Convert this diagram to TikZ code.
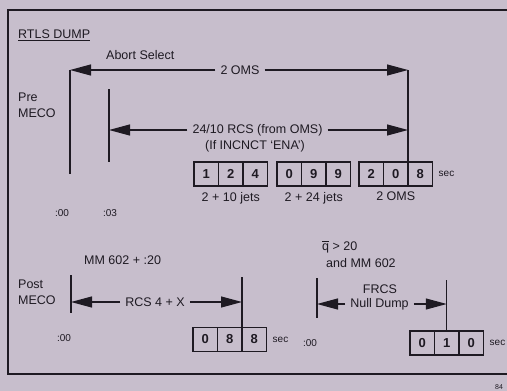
\documentclass[tikz,border=0pt]{standalone}
\usepackage{fontspec}
\setmainfont{Liberation Sans}
\usetikzlibrary{positioning,arrows.meta}
\definecolor{paper}{RGB}{199,190,204}
\definecolor{ink}{RGB}{30,26,34}

\begin{document}
\begin{tikzpicture}[
                x=1pt, y=-1pt,
                node distance=0pt,
                lbl/.style={inner sep=0pt, text=ink,
                            font=\fontsize{12.5}{16}\selectfont},
                small/.style={inner sep=0pt, text=ink,
                              font=\fontsize{10}{11}\selectfont},
                cell/.style={draw=ink, line width=1.1pt,
                             minimum width=24.5pt, minimum height=24pt,
                             inner sep=0pt, outer sep=0pt, text=ink,
                             font=\fontsize{13}{13}\selectfont\bfseries},
                tick/.style={draw=ink, line width=1.2pt},
                arr/.style={draw=ink, line width=1.2pt, shorten <=5pt,
                            -{Triangle[length=21pt,width=11pt]}}]
                \useasboundingbox[fill=paper] (0,0) rectangle (507,391);
                % frame
                \draw[ink, line width=1.4pt] (507,10) -- (8,10) -- (8,374) -- (507,374);

                % pre MECO
                \node[lbl, anchor=west] (title) at (18,35) {\underline{RTLS DUMP}};
                \node[lbl, anchor=west] (abort) at (106,55) {Abort Select};
                \node[lbl, anchor=west, align=left] (pre) at (18,105) {Pre\\MECO};
                \node[lbl] (oms) at (240,70) {2 OMS};
                \node[lbl] (rcs) at (257.5,130) {24/10 RCS (from OMS)};
                \node[lbl] (inc) at (255,146) {(If INCNCT `ENA')};
                \node[small] (t00) at (62,213) {:00};
                \node[small] (t03) at (110,213) {:03};

                \coordinate (v1a) at (70,70);
                \coordinate (v1b) at (70,174);
                \coordinate (v2a) at (109,89);
                \coordinate (v2b) at (109,162);
                \coordinate (v3a) at (408,70);

                \node[cell] (g1a) at (206.25,174) {1};
                \node[cell, right=of g1a] (g1b) {2};
                \node[cell, right=of g1b] (g1c) {4};
                \node[cell] (g2a) at (289.25,174) {0};
                \node[cell, right=of g2a] (g2b) {9};
                \node[cell, right=of g2b] (g2c) {9};
                \node[cell] (g3a) at (371.25,174) {2};
                \node[cell, right=of g3a] (g3b) {0};
                \node[cell, right=of g3b] (g3c) {8};
                \node[small, right=6pt of g3c] (sec1) {sec};
                \node[lbl, below=6pt of g1b] (j10) {2 + 10 jets};
                \node[lbl, below=6pt of g2b] (j24) {2 + 24 jets};
                \node[lbl, below=6pt of g3b] (oms2) {2 OMS};

                \draw[tick] (v1a) -- (v1b);
                \draw[tick] (v2a) -- (v2b);
                \draw[tick] (v3a) -- (g3b.north east);
                \draw[arr] (oms.west) -- (oms.west -| v1a);
                \draw[arr] (oms.east) -- (v3a);
                \draw[arr] (rcs.west) -- (rcs.west -| v2a);
                \draw[arr] (rcs.east) -- (rcs.east -| v3a);

                % post MECO
                \node[lbl, anchor=west] (mm) at (84,260) {MM 602 + :20};
                \node[lbl, anchor=west] (qbar) at (322,247)
                    {$\overline{\mbox{q}\vphantom{T}}$ > 20};
                \node[lbl, anchor=west] (and) at (326,263) {and MM 602};
                \node[lbl, anchor=west, align=left] (post) at (18,292) {Post\\MECO};
                \node[lbl] (rcsx) at (155,302) {RCS 4 + X};
                \node[lbl] (frcs) at (380,289) {FRCS};
                \node[lbl] (null) at (379.5,304) {Null Dump};
                \node[small] (t00b) at (64,338) {:00};
                \node[small] (t00c) at (310,343) {:00};

                \coordinate (v4a) at (71,275);
                \coordinate (v4b) at (71,313);
                \coordinate (v5a) at (242,277);
                \coordinate (v6a) at (317,278);
                \coordinate (v6b) at (317,318);
                \coordinate (v7a) at (446.75,280);

                \node[cell] (g4a) at (205.25,339.5) {0};
                \node[cell, right=of g4a] (g4b) {8};
                \node[cell, right=of g4b] (g4c) {8};
                \node[small, right=6pt of g4c] (sec2) {sec};
                \node[cell] (g5a) at (422.25,343) {0};
                \node[cell, right=of g5a] (g5b) {1};
                \node[cell, right=of g5b] (g5c) {0};
                \node[small, right=6pt of g5c] (sec3) {sec};

                \draw[tick] (v4a) -- (v4b);
                \draw[tick] (v5a) -- (g4b.north east);
                \draw[tick] (v6a) -- (v6b);
                \draw[tick] (v7a) -- (g5b.north);
                \draw[arr] (rcsx.west) -- (rcsx.west -| v4a);
                \draw[arr] (rcsx.east) -- (rcsx.east -| v5a);
                \draw[arr] (null.west) -- (null.west -| v6a);
                \draw[arr] (null.east) -- (null.east -| v7a);

                \node[inner sep=0pt, text=ink, font=\fontsize{7}{7}\selectfont] (pg) at (499,387) {84};
            \end{tikzpicture}
\end{document}
